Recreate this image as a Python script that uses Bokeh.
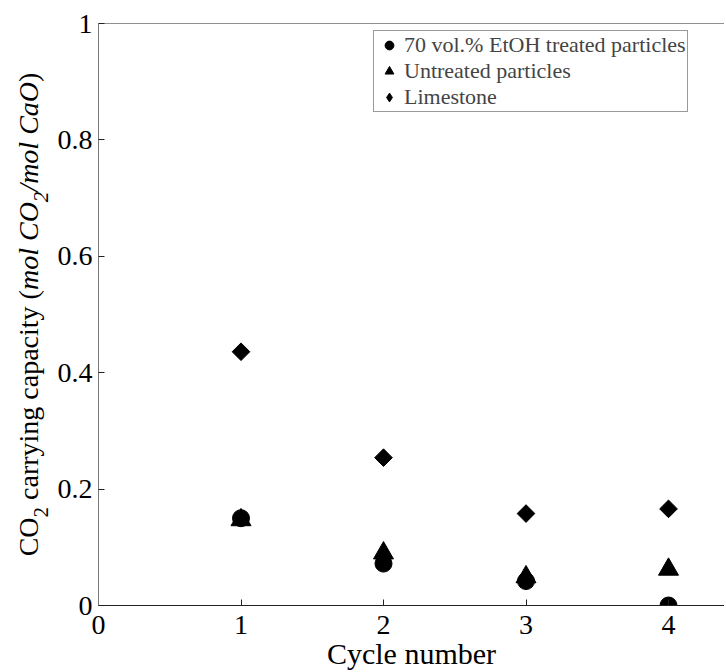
import math
from bokeh.plotting import figure
from bokeh.layouts import row
from bokeh.models import Label, Span, FixedTicker, Legend, LegendItem
from bokeh.embed import file_html
from bokeh.resources import INLINE

# ---- data ----
cycles = [1, 2, 3, 4]
etoh_treated = [0.150, 0.072, 0.042, 0.000]
untreated = [0.147, 0.090, 0.049, 0.062]
limestone = [0.436, 0.254, 0.158, 0.166]

series_names = ["70 vol.% EtOH treated particles", "Untreated particles", "Limestone"]
x_ticks = [0, 1, 2, 3, 4]
x_tick_labels = ["0", "1", "2", "3", "4"]
y_ticks = [0, 0.2, 0.4, 0.6, 0.8, 1.0]
y_tick_labels = ["0", "0.2", "0.4", "0.6", "0.8", "1"]

x_title = "Cycle number"
# y title pieces: (text, italic, subscript)
y_title_parts = [
    ("CO", False, False),
    ("2", False, True),
    (" carrying capacity (", False, False),
    ("mol CO", True, False),
    ("2", True, True),
    ("/mol CaO", True, False),
    (")", False, False),
]

# ---- layout constants ----
FONT = "Liberation Serif"
TOTAL_W, H = 724, 672
LW = 52                      # width of the strip that holds the y title
W = TOTAL_W - LW
BORDER_L, BORDER_T, BORDER_B = 98 - LW, 23, 67
FRAME_W = W - BORDER_L
FRAME_H = H - BORDER_T - BORDER_B
FRAME_BOTTOM = BORDER_T + FRAME_H
PX_PER_X = 142.5
x_end = FRAME_W / PX_PER_X

p = figure(width=W, height=H, output_backend="svg", toolbar_location=None,
           x_range=(0, x_end), y_range=(0, 1),
           min_border_left=BORDER_L, min_border_right=0,
           min_border_top=BORDER_T, min_border_bottom=BORDER_B)
p.outline_line_color = None
p.grid.visible = False
p.background_fill_color = "white"
p.border_fill_color = "white"

for ax in (p.xaxis[0], p.yaxis[0]):
    ax.major_tick_in = 6
    ax.major_tick_out = 0
    ax.minor_tick_in = 0
    ax.minor_tick_out = 0
    ax.major_label_text_font = FONT
    ax.major_label_text_font_size = "28px"
    ax.major_label_text_color = "black"
    ax.major_tick_line_color = "#222222"

p.xaxis.ticker = FixedTicker(ticks=x_ticks)
p.xaxis.major_label_overrides = dict(zip(x_ticks, x_tick_labels))
p.xaxis.axis_line_color = "#222222"
p.xaxis.major_label_standoff = 10
p.xaxis.axis_label = x_title
p.xaxis.axis_label_text_font = FONT
p.xaxis.axis_label_text_font_size = "30px"
p.xaxis.axis_label_text_font_style = "normal"
p.xaxis.axis_label_text_color = "black"
p.xaxis.axis_label_standoff = 0

p.yaxis.ticker = FixedTicker(ticks=y_ticks)
p.yaxis.major_label_overrides = dict(zip(y_ticks, y_tick_labels))
p.yaxis.axis_line_color = "#777777"
p.yaxis.major_label_standoff = 6

# top border line
p.add_layout(Span(location=1, dimension="width", line_color="#222222", line_width=1))

r1 = p.scatter(cycles, etoh_treated, marker="circle", size=17, color="black")
r2 = p.scatter(cycles, untreated, marker="triangle", size=20, color="black")
# diamond-shaped legend key for limestone; hidden under the rotated squares
r3_key = p.scatter(cycles, limestone, marker="diamond", size=16, color="black")
r3 = p.scatter(cycles, limestone, marker="square", size=12.5, angle=math.pi / 4, color="black")

legend = Legend(items=[LegendItem(label=series_names[0], renderers=[r1]),
                       LegendItem(label=series_names[1], renderers=[r2]),
                       LegendItem(label=series_names[2], renderers=[r3_key])],
                location=(275, 493),
                label_text_font=FONT, label_text_font_size="22px",
                label_text_line_height=0.9,
                glyph_width=28, glyph_height=22, label_height=20,
                label_standoff=1, spacing=0, padding=1,
                border_line_color="#333333", border_line_width=1,
                background_fill_alpha=1)
p.add_layout(legend)

# ---- y title strip (shares the y scale of the main plot) ----
ylab = figure(width=LW, height=H, output_backend="svg", toolbar_location=None,
              x_range=(0, LW), y_range=p.y_range, min_border=0,
              min_border_top=BORDER_T, min_border_bottom=BORDER_B,
              x_axis_location=None, y_axis_location=None)
ylab.outline_line_color = None
ylab.grid.visible = False


def dy(py):
    return (FRAME_BOTTOM - py) / FRAME_H


REG = {" ": 250, "(": 333, ")": 333, "/": 278, "2": 500, "C": 667, "O": 722,
       "a": 444, "c": 444, "g": 500, "i": 278, "n": 500, "p": 500, "r": 333,
       "t": 278, "y": 500, "m": 778, "o": 500, "l": 278}
ITA = {" ": 250, "/": 278, "2": 500, "C": 667, "O": 722, "a": 500, "m": 722,
       "o": 500, "l": 278}
F_MAIN, F_SUB = 28, 21
SUB_SHIFT = 12
BASE_X = 28


def width(txt, italic, size):
    tab = ITA if italic else REG
    return sum(tab.get(ch, 500) for ch in txt) / 1000.0 * size


total = sum(width(t, it, F_SUB if sb else F_MAIN) for t, it, sb in y_title_parts)
frame_mid = BORDER_T + FRAME_H / 2
pos = frame_mid + total / 2
for t, it, sb in y_title_parts:
    size = F_SUB if sb else F_MAIN
    bx = BASE_X + (SUB_SHIFT if sb else 0)
    lead = len(t) - len(t.lstrip(" "))
    pos -= width(" " * lead, it, size)
    core = t.strip(" ")
    ylab.add_layout(Label(x=bx, y=dy(pos), text=core, angle=math.pi / 2,
                          text_font=FONT, text_font_size=f"{size}px",
                          text_font_style="italic" if it else "normal",
                          text_align="left", text_baseline="alphabetic",
                          text_color="black"))
    pos -= width(t.lstrip(" "), it, size)

layout = row(ylab, p)
open("out.html", "w").write(file_html(layout, INLINE))
